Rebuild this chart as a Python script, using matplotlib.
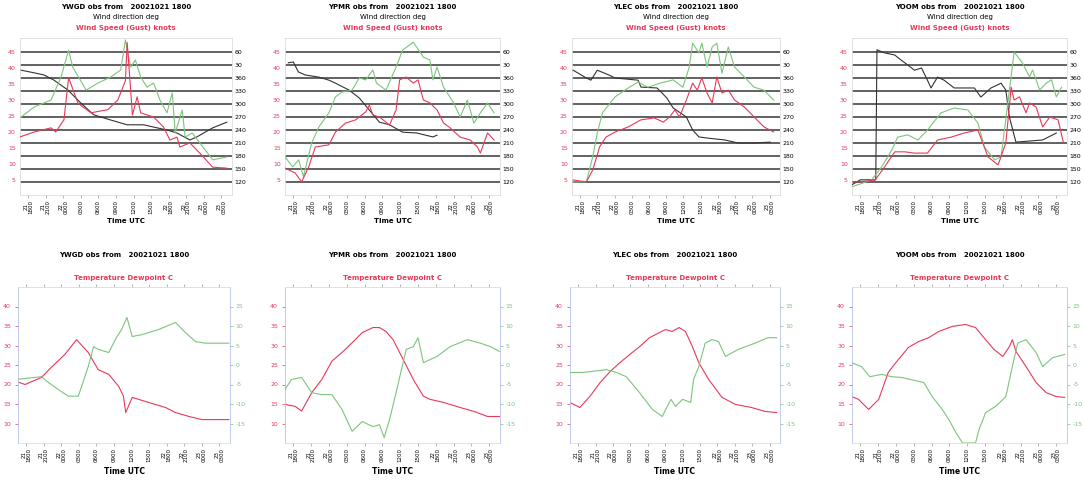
import matplotlib
matplotlib.use("Agg")
import matplotlib.pyplot as plt
import numpy as np

plt.rcParams["axes.unicode_minus"] = False

# station codes and titles
stations = ["YWGD", "YPMR", "YLEC", "YOOM"]
obs_time = "20021021 1800"
xtick_labels = ["21\n1800", "21\n2100", "22\n0000", "0300", "0600", "0900",
                "1200", "1500", "22\n1800", "22\n2100", "23\n0000", "23\n0300"]
xtick_hours = [0, 3, 6, 9, 12, 15, 18, 21, 24, 27, 30, 33]
dir_ticks = [120, 150, 180, 210, 240, 270, 300, 330, 360, 390, 420]
speed_ticks = [5, 10, 15, 20, 25, 30, 35, 40, 45]
temp_ticks = [10, 15, 20, 25, 30, 35, 40]
dew_ticks = [-15, -10, -5, 0, 5, 10, 15]

# ---- wind direction (deg), hours since 1800 UTC ----
dir_t = [
    [-1.2, 1.0, 2.7, 4.4, 6.8, 9.0, 11.2, 14.1, 16.9, 19.7, 22.0, 23.7, 25.4, 27.6, 28.8, 31.5, 33.9],
    [-0.85, 0.0, 0.85, 2.0, 4.3, 6.0, 7.1, 9.4, 11.1, 12.8, 14.5, 16.2, 18.4, 20.8, 23.5, 24.2],
    [-1.2, 1.1, 1.9, 3.0, 5.0, 6.1, 10.1, 10.6, 13.4, 15.1, 16.2, 18.5, 19.6, 20.7, 22.4, 25.2, 27.5, 30.3, 33.1],
    [-1.5, 0.0, 2.6, 2.8, 4.1, 5.8, 6.9, 8.0, 9.1, 10.3, 11.3, 11.9, 13.0, 14.1, 15.8, 18.1, 19.2,
     20.3, 22.0, 23.7, 24.5, 25.1, 26.2, 30.7, 33.0],
]
dir_v = [
    [18, 12, 7, 355, 332, 302, 275, 263, 252, 252, 245, 240, 233, 217, 224, 245, 258],
    [35, 37, 14, 7, 2, 355, 348, 332, 314, 286, 258, 252, 235, 233, 224, 228],
    [18, 0, 355, 18, 7, 0, 355, 339, 337, 314, 291, 270, 240, 224, 221, 217, 210, 210, 212],
    [113, 125, 125, 65, 58, 53, 41, 30, 18, 23, 355, 337, 2, 355, 337, 337, 337,
     316, 337, 348, 332, 270, 212, 217, 233],
]

# ---- wind speed (knots) ----
spd_t = [
    [-1.5, 1.0, 3.9, 4.7, 6.1, 6.9, 8.5, 10.7, 13.6, 15.3, 16.6, 16.9, 17.8, 18.6, 19.2, 21.4,
     23.1, 24.2, 25.4, 25.9, 27.6, 29.3, 31.5, 33.9],
    [-1.4, 0.3, 1.4, 2.6, 3.7, 6.0, 7.1, 8.8, 10.5, 12.2, 12.8, 13.4, 14.5, 16.2, 17.3, 17.9, 19.0,
     20.2, 21.0, 21.9, 23.0, 24.2, 25.3, 26.4, 28.1, 29.8, 31.0, 31.5, 32.7, 33.8],
    [-1.2, 1.1, 2.2, 3.4, 4.5, 6.1, 8.4, 10.6, 12.9, 14.5, 15.6, 16.5, 17.3, 18.5, 19.6, 20.4,
     21.2, 22.1, 23.0, 23.8, 24.7, 25.8, 26.9, 28.6, 30.3, 32.0, 33.7],
    [-1.5, 0.0, 2.5, 4.1, 5.8, 7.5, 9.1, 11.3, 13.0, 15.3, 17.5, 19.8, 21.5, 23.2, 24.5, 25.4,
     25.9, 26.8, 27.9, 28.5, 29.6, 30.7, 31.9, 33.3, 34.2],
]
spd_v = [
    [18.4, 20, 21.3, 20, 23.8, 37, 29, 26, 27, 30, 36, 48, 25.3, 31, 26, 24.7,
     21.6, 17.5, 18.4, 15.3, 16.6, 13.4, 9, 8.7],
    [8.7, 7.2, 4.4, 9.1, 15.3, 16, 20, 22.8, 23.8, 26.3, 28.4, 25.3, 24.7, 22.2, 26.9, 36.3, 37.2,
     35.3, 36.3, 30, 29.1, 26.9, 22.8, 21.3, 18.4, 17.5, 15.3, 13.4, 19.7, 17.5],
    [5, 4.4, 8.1, 15.3, 18.4, 20, 21.6, 23.8, 24.4, 23.1, 24.7, 26.9, 24.7, 30, 35.3, 33.1,
     36.9, 32.2, 29.1, 37.2, 32.2, 33.1, 30, 27.8, 24.7, 21.6, 20],
    [4.4, 4.4, 5, 9.1, 13.8, 13.8, 13.4, 13.4, 17.5, 18.4, 19.7, 20.6, 12.2, 9.7, 16.6, 34,
     30, 31, 26, 29.1, 27.8, 21.6, 24.7, 23.8, 16.6],
]

# ---- wind gust (knots) ----
gst_t = [
    [-1.2, 1.0, 3.9, 5.6, 6.9, 7.6, 9.9, 11.9, 14.1, 15.8, 16.6, 17.5, 18.3, 19.2, 20.3, 21.4,
     22.5, 23.7, 24.6, 25.1, 26.3, 26.8, 28.0, 29.3, 31.5, 33.9],
    [-1.4, -0.1, 0.9, 1.7, 3.1, 4.3, 6.0, 7.1, 8.2, 9.9, 11.1, 12.2, 13.4, 14.0, 15.6, 17.3, 18.4,
     20.2, 21.9, 23.0, 23.5, 24.2, 25.3, 27.0, 28.1, 29.3, 30.4, 31.5, 32.7, 33.8],
    [-1.2, 1.1, 2.2, 3.0, 3.9, 6.1, 8.4, 10.1, 11.8, 14.0, 16.2, 17.9, 19.0, 19.6, 20.7, 21.2,
     22.1, 23.0, 23.8, 24.7, 25.8, 26.9, 28.6, 30.3, 32.0, 33.7],
    [-1.5, 1.9, 3.6, 5.3, 6.3, 8.0, 9.7, 11.3, 13.6, 15.8, 18.1, 19.8, 20.9, 22.6, 23.7, 24.9,
     25.9, 27.3, 28.5, 29.0, 30.2, 31.3, 32.2, 33.0, 33.9],
]
gst_v = [
    [24.7, 27.8, 30, 37.2, 45.6, 40.3, 33.1, 35.3, 37.2, 39.4, 48.8, 40.3, 42.5, 37.2, 34, 35.3,
     30, 26, 32.2, 19.7, 26.9, 18.4, 19.7, 16.6, 11.3, 12.2],
    [12.2, 9.1, 11.3, 6, 16.6, 21.6, 26, 31, 32.5, 33.1, 36.9, 36.3, 39.4, 35.3, 33.1, 40.3, 45.6,
     48.1, 43.4, 42.5, 36.3, 40.3, 34, 29.1, 24.7, 30, 22.8, 26, 29.1, 26],
    [4.4, 4.4, 12.2, 19.7, 26, 31, 33.8, 35.6, 34, 35.3, 36.3, 34, 40.3, 47.8, 44.7, 47.8,
     40.3, 46.6, 47.8, 38.4, 46.6, 40.3, 37.2, 34, 33.1, 30],
    [2.8, 5, 9.1, 14.4, 18.4, 19.1, 17.5, 20.6, 26, 27.5, 26.9, 22.8, 15.3, 11.3, 12.2, 30,
     45, 41.6, 37.2, 39.4, 33.1, 35.3, 36.3, 31, 34],
]

# ---- temperature (C) ----
tmp_t = [
    [-1.7, -0.2, 2.6, 4.3, 6.6, 8.6, 10.6, 12.3, 14.1, 15.8, 16.6, 17.0, 18.1, 20.9, 23.8, 25.5,
     27.8, 30.0, 34.6],
    [-1.4, 0.3, 1.4, 3.1, 4.8, 6.5, 8.2, 9.9, 11.6, 13.4, 14.5, 15.6, 16.8, 18.5, 20.2, 21.9,
     23.0, 25.3, 28.1, 30.4, 32.7, 34.7],
    [-1.4, 0.3, 2.0, 3.8, 5.5, 7.2, 8.9, 10.6, 12.3, 14.0, 15.1, 16.2, 17.4, 18.5, 19.7, 20.8,
     22.5, 24.8, 27.1, 29.9, 32.2, 34.2],
    [-1.5, -0.3, 1.4, 3.1, 4.7, 6.4, 8.1, 9.8, 11.5, 13.2, 15.5, 17.7, 19.4, 21.1, 22.5, 24.0,
     25.1, 25.6, 26.2, 27.9, 29.6, 31.3, 33.0, 34.4],
]
tmp_v = [
    [20.8, 20, 21.8, 24.4, 27.7, 31.5, 28.2, 23.8, 22.6, 19.5, 17, 12.8, 16.7, 15.4, 14.1, 12.8,
     11.8, 11, 11],
    [14.9, 14.4, 13.2, 17.9, 21.3, 26, 28.2, 30.7, 33.3, 34.6, 34.6, 33.6, 31.5, 26.4, 21.3, 17,
     16.2, 15.4, 14.1, 13.1, 11.8, 11.8],
    [15.4, 14.1, 16.9, 20.5, 23.3, 25.6, 27.7, 29.7, 32, 33.3, 34.1, 33.6, 34.6, 33.6, 29.7, 25.6,
     21.3, 16.7, 14.9, 14.1, 13.1, 12.8],
    [16.9, 16.2, 13.6, 16.2, 23.1, 26.4, 29.5, 31, 32, 33.6, 34.9, 35.4, 34.6, 31.5, 29, 27.2,
     29.7, 31.5, 28.5, 24.6, 20.5, 17.9, 16.9, 16.7],
]

# ---- dewpoint (C) ----
dew_t = [
    [-1.7, 2.6, 3.8, 5.5, 7.2, 8.9, 10.6, 11.5, 12.3, 14.1, 15.5, 16.3, 17.2, 18.1, 19.8, 22.6,
     25.5, 27.2, 28.9, 30.6, 34.6],
    [-1.4, -0.3, 1.4, 3.1, 4.8, 6.5, 8.2, 9.9, 11.6, 13.4, 14.5, 15.3, 16.2, 17.3, 19.0, 20.2,
     21.0, 21.9, 24.2, 26.4, 29.3, 31.5, 33.2, 34.7],
    [-1.4, 0.9, 4.9, 6.6, 8.3, 10.6, 12.8, 14.5, 15.1, 16.0, 16.8, 18.0, 19.4, 19.9, 20.8, 21.9,
     23.1, 24.2, 25.4, 27.6, 30.5, 32.7, 34.2],
    [-1.5, 0.2, 1.6, 3.6, 5.3, 7.0, 10.7, 12.1, 13.8, 14.9, 16.1, 17.2, 19.4, 20.0, 21.1, 22.8,
     24.5, 25.6, 26.5, 27.9, 29.6, 30.7, 32.4, 34.4],
]
dew_v = [
    [-3.7, -3, -4.5, -6.3, -8, -8, -0.4, 4.7, 4, 3.2, 7.3, 9.1, 12.2, 7.3, 7.8, 9.1,
     10.9, 8.3, 6, 5.6, 5.6],
    [-6.3, -3.7, -3.2, -7.1, -7.6, -7.6, -11.4, -17, -14.5, -15.8, -15.3, -18.6, -14, -7.1, 4, 4.7,
     7, 0.6, 2.2, 4.7, 6.5, 5.6, 4.7, 3.5],
    [-1.9, -1.9, -1.2, -1.9, -3, -7.1, -11.4, -13.2, -11.4, -8.8, -10.6, -8.8, -9.6, -3.7, -0.4, 5.6,
     6.5, 6, 2.2, 4, 5.6, 7, 7],
    [0.6, -0.4, -3, -2.4, -3, -3.2, -4.5, -8.1, -11.4, -14, -17.3, -20, -20, -16.5, -12.2, -10.6,
     -8.1, -0.4, 5.6, 6.5, 3.2, -0.4, 1.9, 2.7],
]

RED = "#e8385a"
GREEN = "#7cc47c"
DARK = "#333333"
FS = 4.5

W, H = 1083, 480
fig = plt.figure(figsize=(W / 100, H / 100), dpi=100)


def box(x0, x1, y0, y1):
    """pixel box -> figure fraction rect"""
    return [x0 / W, 1 - y1 / H, (x1 - x0) / W, (y1 - y0) / H]


top_x = [(20, 232), (285, 500), (572, 780), (852, 1067)]
bot_x = [(18, 230), (285, 500), (570, 780), (852, 1067)]


def set_xaxis(ax):
    ax.set_xlim(-1.4, 34.8)
    ax.set_xticks(xtick_hours)
    ax.set_xticklabels(xtick_labels, rotation=90, fontsize=FS - 0.5,
                       linespacing=0.9)
    ax.tick_params(axis="x", length=2, width=0.5, color="#999999", pad=1.5)


for i in range(4):
    # ---------- wind panels ----------
    x0, x1 = top_x[i]
    ax = fig.add_axes(box(x0, x1, 38, 195))
    ax2 = ax.twinx()

    # direction on the right (unwrapped past north so the trace stays continuous)
    ax.set_ylim(90, 452.3)
    for d in dir_ticks:
        ax.axhline(d, color="#555555", lw=1.3, zorder=1)
    dv = [v + 360 if v < 100 else v for v in dir_v[i]]
    ax.plot(dir_t[i], dv, color=DARK, lw=0.8, zorder=3)
    ax.set_yticks(dir_ticks)
    ax.set_yticklabels([str(d - 360 if d > 360 else d) for d in dir_ticks])
    ax.yaxis.tick_right()
    ax.tick_params(axis="y", length=0, labelsize=FS, pad=2)
    for s in ax.spines.values():
        s.set_color("#dddddd")
        s.set_linewidth(0.6)
    set_xaxis(ax)

    # speed / gust on the left
    ax2.set_ylim(0.3, 49.4)
    ax2.plot(gst_t[i], gst_v[i], color=GREEN, lw=0.8, zorder=2)
    ax2.plot(spd_t[i], spd_v[i], color=RED, lw=0.8, zorder=3)
    ax2.set_yticks(speed_ticks)
    ax2.yaxis.tick_left()
    ax2.tick_params(axis="y", length=0, labelsize=FS, labelcolor=RED, pad=3)
    for s in ax2.spines.values():
        s.set_visible(False)

    cx = (x0 + x1) / 2 / W
    fig.text(cx, 1 - 7 / H, "%s obs from   %s" % (stations[i], obs_time),
             ha="center", va="center", fontsize=FS + 0.5, fontweight="bold")
    fig.text(cx, 1 - 17 / H, "Wind direction deg", ha="center", va="center",
             fontsize=FS + 0.5)
    fig.text(cx, 1 - 28 / H, "Wind Speed (Gust) knots", ha="center",
             va="center", fontsize=FS + 0.5, color=RED, fontweight="bold")
    fig.text(cx, 1 - 221 / H, "Time UTC", ha="center", va="center",
             fontsize=FS + 0.5, fontweight="bold")

    # ---------- temperature panels ----------
    x0, x1 = bot_x[i]
    bx = fig.add_axes(box(x0, x1, 287, 443))
    bx2 = bx.twinx()

    bx.set_ylim(5, 45)
    bx.plot(tmp_t[i], tmp_v[i], color=RED, lw=0.8)
    bx.set_yticks(temp_ticks)
    bx.tick_params(axis="y", length=2, width=0.5, color=RED, labelsize=FS,
                   labelcolor=RED, pad=3)
    set_xaxis(bx)
    bx.tick_params(axis="x", top=True)
    bx.spines["left"].set_color("#b8c0e8")
    bx.spines["right"].set_color("#b8c0e8")
    bx.spines["top"].set_color("#dddddd")
    bx.spines["bottom"].set_color("#dddddd")
    for s in bx.spines.values():
        s.set_linewidth(0.6)

    bx2.set_ylim(-20, 20)
    bx2.plot(dew_t[i], dew_v[i], color=GREEN, lw=0.8)
    bx2.set_yticks(dew_ticks)
    bx2.tick_params(axis="y", length=2, width=0.5, color=GREEN, labelsize=FS,
                    labelcolor=GREEN, pad=2)
    for s in bx2.spines.values():
        s.set_visible(False)

    cx = (x0 + x1) / 2 / W
    fig.text(cx, 1 - 255 / H, "%s obs from   %s" % (stations[i], obs_time),
             ha="center", va="center", fontsize=FS + 0.5, fontweight="bold")
    fig.text(cx, 1 - 278 / H, "Temperature Dewpoint C", ha="center",
             va="center", fontsize=FS + 0.5, color=RED, fontweight="bold")
    fig.text(cx, 1 - 471 / H, "Time UTC", ha="center", va="center",
             fontsize=FS + 1, fontweight="bold")

fig.savefig("out.png", dpi=100)
